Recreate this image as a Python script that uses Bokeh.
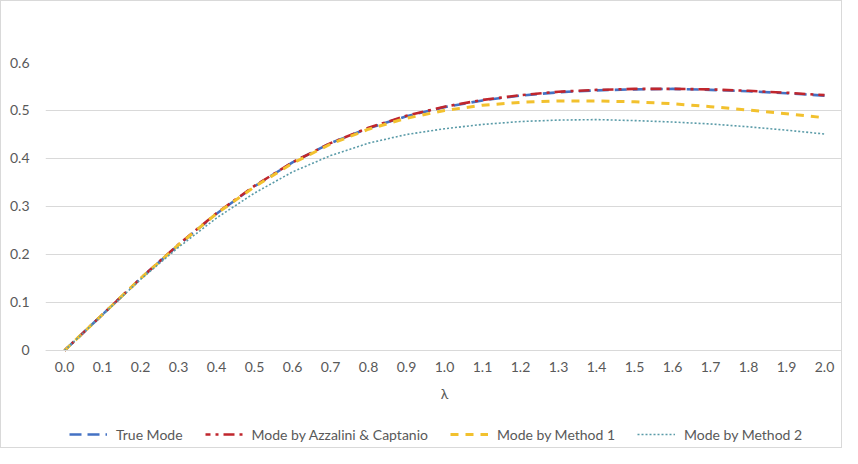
from bokeh.plotting import figure
from bokeh.models import Range1d, FixedTicker, Legend, LegendItem
from bokeh.embed import file_html
from bokeh.resources import INLINE

lam = [0.0, 0.1, 0.2, 0.3, 0.4, 0.5, 0.6, 0.7, 0.8, 0.9, 1.0,
       1.1, 1.2, 1.3, 1.4, 1.5, 1.6, 1.7, 1.8, 1.9, 2.0]
true_mode = [0.000, 0.075, 0.150, 0.220, 0.285, 0.342, 0.392, 0.432, 0.463, 0.488, 0.507,
             0.521, 0.531, 0.538, 0.542, 0.544, 0.545, 0.543, 0.540, 0.536, 0.531]
azzalini = [0.000, 0.075, 0.150, 0.221, 0.286, 0.343, 0.392, 0.432, 0.464, 0.489, 0.508,
            0.522, 0.532, 0.539, 0.543, 0.545, 0.545, 0.544, 0.541, 0.537, 0.532]
method1 = [0.000, 0.075, 0.150, 0.220, 0.285, 0.341, 0.390, 0.430, 0.461, 0.484, 0.500,
           0.511, 0.517, 0.520, 0.520, 0.518, 0.514, 0.508, 0.501, 0.493, 0.485]
method2 = [0.000, 0.074, 0.148, 0.215, 0.276, 0.328, 0.372, 0.406, 0.432, 0.450, 0.462,
           0.471, 0.477, 0.480, 0.481, 0.479, 0.476, 0.472, 0.466, 0.459, 0.451]
y_ticks = [0.0, 0.1, 0.2, 0.3, 0.4, 0.5, 0.6]
y_labels = ["0", "0.1", "0.2", "0.3", "0.4", "0.5", "0.6"]
x_labels = ["%.1f" % v for v in lam]
names = ["True Mode", "Mode by Azzalini & Captanio", "Mode by Method 1", "Mode by Method 2"]

FONT = "Lato"
TXT = "#595959"
GRID = "#d9d9d9"

# frame spans from the 0.6 gridline down to the bottom of the figure;
# the x axis sits at y = 0 inside it
p = figure(width=842, height=448, output_backend="svg", toolbar_location=None,
           x_range=Range1d(-0.05, 2.05), y_range=Range1d(-0.2063, 0.6),
           min_border_left=44, min_border_right=0, min_border_top=61, min_border_bottom=0)
p.styles = {"border": "1px solid #d9d9d9", "box-sizing": "border-box"}
p.outline_line_color = None
p.background_fill_color = "white"
p.border_fill_color = "white"

p.xgrid.grid_line_color = None
p.ygrid.grid_line_color = GRID
p.ygrid.grid_line_width = 1
p.ygrid.ticker = FixedTicker(ticks=y_ticks)

p.xaxis.fixed_location = 0
p.xaxis.ticker = FixedTicker(ticks=lam)
p.xaxis.major_label_overrides = {v: s for v, s in zip(lam, x_labels)}
p.yaxis.ticker = FixedTicker(ticks=y_ticks)
p.yaxis.major_label_overrides = {v: s for v, s in zip(y_ticks, y_labels)}

for ax in (p.xaxis[0], p.yaxis[0]):
    ax.major_tick_line_color = None
    ax.minor_tick_line_color = None
    ax.major_label_text_font = FONT
    ax.major_label_text_font_size = "14px"
    ax.major_label_text_color = TXT
p.yaxis.axis_line_color = None
p.yaxis.major_label_standoff = 10
p.xaxis.axis_line_color = GRID
p.xaxis.major_label_standoff = 6
p.xaxis.axis_label = "λ"
p.xaxis.axis_label_text_font = FONT
p.xaxis.axis_label_text_font_size = "14px"
p.xaxis.axis_label_text_font_style = "normal"
p.xaxis.axis_label_text_color = TXT
p.xaxis.axis_label_standoff = 9

r1 = p.line(lam, true_mode, line_color="#4472C4", line_width=2.6, line_dash="12 6")
r2 = p.line(lam, azzalini, line_color="#C0262D", line_width=2.6, line_dash="11 5 3 5", line_dash_offset=6)
r3 = p.line(lam, method1, line_color="#F2C12E", line_width=3, line_dash="8 7")
r4 = p.line(lam, method2, line_color="#5A9BA8", line_width=1.6, line_dash="2 2")

legend = Legend(items=[LegendItem(label=n, renderers=[r]) for n, r in zip(names, [r1, r2, r3, r4])],
                orientation="horizontal", location=(24, 5),
                border_line_color=None, background_fill_alpha=0,
                label_text_font=FONT, label_text_font_size="14px", label_text_color=TXT,
                glyph_width=38, glyph_height=20, label_standoff=9, spacing=22,
                padding=0, margin=0, label_height=20)
p.add_layout(legend, "center")

open("out.html", "w").write(file_html(p, INLINE))
